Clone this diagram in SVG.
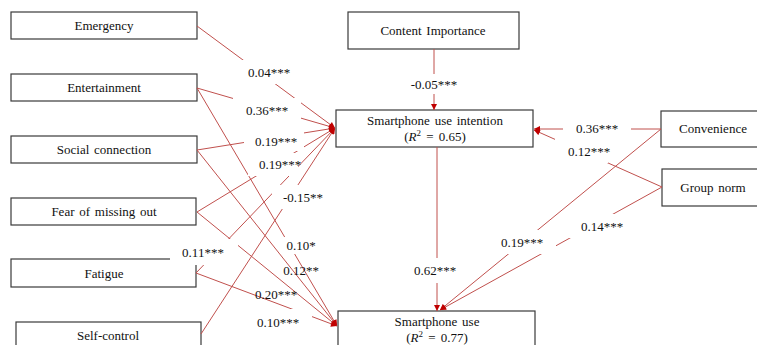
<svg xmlns="http://www.w3.org/2000/svg" width="757" height="345" viewBox="0 0 757 345">
  <defs>
    <marker id="ah" viewBox="0 0 10 10" refX="10" refY="5" markerWidth="7" markerHeight="6" markerUnits="userSpaceOnUse" orient="auto">
      <path d="M0,0 L10,5 L0,10 z" fill="#C00000"/>
    </marker>
    <style>
      .box { fill: #ffffff; stroke: #3a3a3a; stroke-width: 1.2; }
      text { font-family: 'Liberation Serif', 'DejaVu Serif', 'Times New Roman', serif; font-size: 13px; fill: #111111; text-anchor: middle; }
      .ws { word-spacing: 1.5px; }
      .edge { stroke: #C0504D; stroke-width: 1; fill: none; marker-end: url(#ah); }
      .bg { fill: #ffffff; stroke: none; }
      .it { font-style: italic; }
    </style>
  </defs>
  <rect width="757" height="345" fill="#ffffff"/>

  <!-- predictor boxes -->
  <g id="emergency"><rect class="box" x="11" y="12" width="186" height="27"/><text x="104" y="30">Emergency</text></g>
  <g id="entertainment"><rect class="box" x="11" y="74" width="186" height="27"/><text x="104" y="92">Entertainment</text></g>
  <g id="social-connection"><rect class="box" x="11" y="136" width="186" height="27"/><text class="ws" x="104" y="154">Social connection</text></g>
  <g id="fear-of-missing-out"><rect class="box" x="11" y="198" width="185" height="27"/><text class="ws" x="104" y="216">Fear of missing out</text></g>
  <g id="fatigue"><rect class="box" x="11" y="259" width="185" height="28"/><text x="104" y="278">Fatigue</text></g>
  <g id="self-control"><rect class="box" x="16" y="322" width="185" height="32"/><text x="108" y="340">Self-control</text></g>
  <g id="content-importance"><rect class="box" x="348" y="12" width="171" height="37"/><text class="ws" x="433" y="35">Content Importance</text></g>
  <g id="convenience"><rect class="box" x="661" y="111" width="100" height="36"/><text x="713" y="133">Convenience</text></g>
  <g id="group-norm"><rect class="box" x="662" y="169" width="100" height="37"/><text class="ws" x="713" y="192">Group norm</text></g>

  <!-- outcome boxes -->
  <g id="intention">
    <rect class="box" x="336" y="110" width="197" height="37"/>
    <text class="ws" x="435" y="125">Smartphone use intention</text>
    <text x="435" y="141">(<tspan class="it">R</tspan><tspan font-size="9" dy="-5">2</tspan><tspan dy="5" word-spacing="2px"> = 0.65)</tspan></text>
  </g>
  <g id="use">
    <rect class="box" x="338" y="311" width="197" height="40"/>
    <text class="ws" x="437" y="326">Smartphone use</text>
    <text x="437" y="342">(<tspan class="it">R</tspan><tspan font-size="9" dy="-5">2</tspan><tspan dy="5" word-spacing="2px"> = 0.77)</tspan></text>
  </g>

  <!-- paths -->
  <g id="connectors">
    <line class="edge" x1="197" y1="26" x2="335" y2="128"/>
    <line class="edge" x1="197" y1="88" x2="335" y2="128"/>
    <line class="edge" x1="197" y1="150" x2="335" y2="128"/>
    <line class="edge" x1="197" y1="212" x2="335" y2="128"/>
    <line class="edge" x1="196" y1="273" x2="335" y2="128"/>
    <line class="edge" x1="201" y1="334" x2="335" y2="128"/>
    <line class="edge" x1="197" y1="88" x2="337" y2="326"/>
    <line class="edge" x1="197" y1="150" x2="337" y2="326"/>
    <line class="edge" x1="197" y1="212" x2="337" y2="326"/>
    <line class="edge" x1="196" y1="273" x2="337" y2="326"/>
    <line class="edge" x1="434" y1="49" x2="434" y2="110"/>
    <line class="edge" x1="437" y1="147" x2="437" y2="311"/>
    <line class="edge" x1="661" y1="129" x2="534" y2="129"/>
    <line class="edge" x1="662" y1="187" x2="534" y2="130"/>
    <line class="edge" x1="661" y1="129" x2="440" y2="310"/>
    <line class="edge" x1="662" y1="187" x2="440" y2="310"/>
  </g>

  <!-- path coefficients -->
  <g id="coefficients">
    <rect class="bg" x="235" y="60" width="68" height="24"/><text x="269" y="76.5">0.04***</text>
    <rect class="bg" x="233" y="98" width="68" height="24"/><text x="267" y="114.5">0.36***</text>
    <rect class="bg" x="244" y="131" width="60" height="20"/><text x="276" y="145.5">0.19***</text>
    <rect class="bg" x="248" y="153" width="50" height="23"/><text x="280" y="168.5">0.19***</text>
    <rect class="bg" x="272" y="185" width="62" height="24"/><text x="303" y="201.5">-0.15**</text>
    <rect class="bg" x="170" y="239" width="68" height="26"/><text x="203" y="256.5">0.11***</text>
    <rect class="bg" x="282" y="237" width="38" height="17"/><text x="301" y="249.5">0.10*</text>
    <text x="301" y="274.5">0.12**</text>
    <text x="276" y="298.5">0.20***</text>
    <rect class="bg" x="244" y="309" width="68" height="26"/><text x="278" y="326.5">0.10***</text>
    <rect class="bg" x="400" y="74" width="68" height="20"/><text x="434" y="88.5">-0.05***</text>
    <rect class="bg" x="563" y="117" width="68" height="22"/><text x="597" y="132.5">0.36***</text>
    <rect class="bg" x="555" y="139" width="53" height="24"/><text x="589" y="155.5">0.12***</text>
    <rect class="bg" x="403" y="258" width="68" height="25"/><text x="435" y="274.5">0.62***</text>
    <rect class="bg" x="488" y="230" width="68" height="24"/><text x="522" y="246.5">0.19***</text>
    <rect class="bg" x="568" y="214" width="68" height="24"/><text x="602" y="230.5">0.14***</text>
  </g>
</svg>
